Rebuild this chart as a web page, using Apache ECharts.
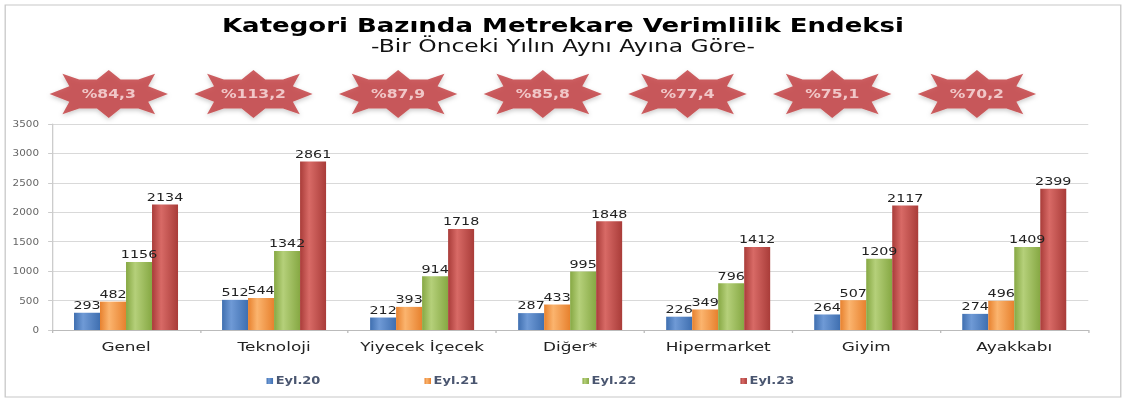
<!DOCTYPE html>
<html><head><meta charset="utf-8">
<script src="https://cdn.jsdelivr.net/npm/echarts@6/dist/echarts.min.js"></script>
<style>html,body{margin:0;padding:0;background:#fff;overflow:hidden}
#c{width:866px;height:401px;transform:scaleX(1.3002);transform-origin:0 0}</style>
</head><body><div id="c"></div>
<script>
const categories = ['Genel','Teknoloji','Yiyecek İçecek','Diğer*','Hipermarket','Giyim','Ayakkabı'];
const seriesNames = ['Eyl.20','Eyl.21','Eyl.22','Eyl.23'];
const eyl20 = [293,512,212,287,226,264,274];
const eyl21 = [482,544,393,433,349,507,496];
const eyl22 = [1156,1342,914,995,796,1209,1409];
const eyl23 = [2134,2861,1718,1848,1412,2117,2399];
const badges = ['%84,3','%113,2','%87,9','%85,8','%77,4','%75,1','%70,2'];

const FONT = "'DejaVu Sans', Verdana, sans-serif";
const colors = [['#6f9ad6','#3f6fb0'],['#fbb46e','#e7812e'],['#b5d07a','#86a843'],['#d86a66','#a93c39']];
const legendColors = ['#4F81BD','#F79646','#9BBB59','#C0504D'];
function grad(c){return new echarts.graphic.LinearGradient(0,0,1,0,[{offset:0,color:c[1]},{offset:0.35,color:c[0]},{offset:1,color:c[1]}]);}

const star = 'path://M0,25 L20,17 L13,4 L30,10 L48,10 L60,0 L72,10 L90,10 L107,4 L100,17 L120,25 L100,33 L107,46 L90,40 L72,40 L60,50 L48,40 L30,40 L13,46 L20,33 Z';

const allVals = [eyl20,eyl21,eyl22,eyl23];
const barSeries = allVals.map((v,i)=>({
  name: seriesNames[i], type:'bar', xAxisIndex:0, yAxisIndex:0,
  data: v, barWidth: 20, barGap: '0%',
  itemStyle:{color: grad(colors[i])},
  label:{show:true, position:'top', distance:2, color:'#222', fontFamily:FONT, fontSize:11}
}));

const chart = echarts.init(document.getElementById('c'), null, {renderer:'svg'});
chart.setOption({
  animation:false,
  backgroundColor:'#fff',
  color: legendColors,
  title:[
    {text:'Kategori Bazında Metrekare Verimlilik Endeksi', left:'center', top:15, padding:0,
     textStyle:{fontFamily:FONT, fontWeight:'bold', fontSize:20, lineHeight:20, color:'#000'}},
    {text:'-Bir Önceki Yılın Aynı Ayına Göre-', left:'center', top:37, padding:0,
     textStyle:{fontFamily:FONT, fontWeight:'normal', fontSize:18, lineHeight:18, color:'#111'}}
  ],
  legend:{data:seriesNames, bottom:10, left:200, itemWidth:5, itemHeight:6, itemGap:80, icon:'rect',
    textStyle:{fontFamily:FONT, fontSize:10, color:'#4a5670', fontWeight:'bold', padding:[0,0,0,-3]}},
  grid:[
    {left:40, right:29, top:124, bottom:71},
    {left:28, right:59, top:68, height:52}
  ],
  xAxis:[
    {type:'category', data:categories, gridIndex:0,
     axisLine:{lineStyle:{color:'#bbb'}}, axisTick:{show:true, length:3, lineStyle:{color:'#bbb'}},
     axisLabel:{interval:0, fontFamily:FONT, fontSize:13, color:'#222', margin:10}},
    {type:'category', data:categories, gridIndex:1, show:false}
  ],
  yAxis:[
    {type:'value', gridIndex:0, min:0, max:3500, interval:500,
     axisLine:{show:true, lineStyle:{color:'#ccc'}}, axisTick:{show:true, length:3, lineStyle:{color:'#ccc'}},
     splitLine:{lineStyle:{color:'#d9d9d9'}},
     axisLabel:{fontFamily:FONT, fontSize:8, color:'#666', margin:10, formatter:v=>String(v)}},
    {type:'value', gridIndex:1, min:0, max:1, show:false}
  ],
  series: barSeries.concat([{
    type:'scatter', xAxisIndex:1, yAxisIndex:1, symbol: star, symbolSize:[91,48],
    data: badges.map(()=>0.5),
    itemStyle:{color:'#c0393b', shadowColor:'rgba(0,0,0,0.25)', shadowBlur:4, shadowOffsetY:2},
    label:{show:true, position:'inside', formatter:p=>badges[p.dataIndex], color:'#fbe3e3', fontFamily:FONT, fontWeight:'bold', fontSize:12},
    silent:true
  }]),
  graphic:[{type:'rect', shape:{x:4,y:5,width:858,height:392}, style:{fill:'none', stroke:'#c8c8c8', lineWidth:1}, silent:true}]
});
</script></body></html>
